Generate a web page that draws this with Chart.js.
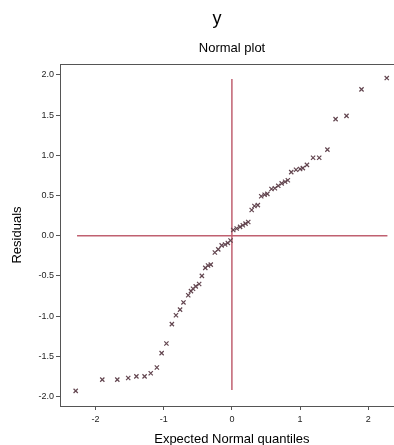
<!DOCTYPE html>
<html>
<head>
<meta charset="utf-8">
<script src="https://cdn.jsdelivr.net/npm/chart.js@4"></script>
<style>
  html, body { margin: 0; padding: 0; background: #fff; overflow: hidden; }
  #chart { display: block; }
</style>
</head>
<body>
<canvas id="chart" width="409" height="445"></canvas>
<script>
// expected normal quantiles (x) and residuals (y)
const quantiles = [
  -2.29, -1.90, -1.68, -1.52, -1.40, -1.28, -1.19, -1.10, -1.03, -0.96,
  -0.88, -0.82, -0.76, -0.71, -0.64, -0.60, -0.57, -0.53, -0.48, -0.44,
  -0.39, -0.35, -0.31, -0.25, -0.20, -0.15, -0.10, -0.06, -0.02, 0.02,
  0.07, 0.12, 0.16, 0.20, 0.24, 0.29, 0.33, 0.38, 0.43, 0.48,
  0.52, 0.58, 0.63, 0.68, 0.73, 0.78, 0.82, 0.87, 0.94, 1.00,
  1.04, 1.10, 1.19, 1.28, 1.40, 1.52, 1.68, 1.90, 2.27
];
const residuals = [
  -1.93, -1.79, -1.79, -1.77, -1.75, -1.75, -1.71, -1.64, -1.46, -1.34,
  -1.10, -0.99, -0.92, -0.83, -0.74, -0.69, -0.66, -0.63, -0.60, -0.50,
  -0.40, -0.37, -0.36, -0.21, -0.17, -0.12, -0.11, -0.09, -0.06, 0.07,
  0.09, 0.11, 0.13, 0.15, 0.17, 0.32, 0.37, 0.38, 0.49, 0.51,
  0.52, 0.58, 0.59, 0.62, 0.65, 0.67, 0.69, 0.79, 0.82, 0.83,
  0.84, 0.88, 0.97, 0.97, 1.07, 1.45, 1.49, 1.82, 1.96
];

// reference lines through zero
const hLineX = [-2.27, 2.28];
const vLineY = [1.95, -1.92];

const xTicks = [-2, -1, 0, 1, 2];
const yTicks = [-2.0, -1.5, -1.0, -0.5, 0.0, 0.5, 1.0, 1.5, 2.0];

const mainTitle = 'y';
const subTitle = 'Normal plot';
const xTitle = 'Expected Normal quantiles';
const yTitle = 'Residuals';

const FONT = 'Arial, "Liberation Sans", sans-serif';
const AXIS_COLOR = '#555555';
const LINE_COLOR = '#c06070';
const MARK_COLOR = '#634650';

const points = quantiles.map((q, i) => ({ x: q, y: residuals[i] }));

const titlesPlugin = {
  id: 'titles',
  afterDraw(chart) {
    const ctx = chart.ctx;
    const area = chart.chartArea;
    ctx.save();
    ctx.fillStyle = '#000';
    ctx.textAlign = 'center';
    ctx.textBaseline = 'middle';
    ctx.font = '18px ' + FONT;
    ctx.fillText(mainTitle, 217, 19);
    ctx.font = '13px ' + FONT;
    ctx.fillText(subTitle, 232, 48);
    // top frame line
    ctx.strokeStyle = AXIS_COLOR;
    ctx.lineWidth = 1;
    ctx.beginPath();
    ctx.moveTo(area.left, area.top + 0.5);
    ctx.lineTo(area.right, area.top + 0.5);
    ctx.stroke();
    ctx.restore();
  }
};

new Chart(document.getElementById('chart'), {
  type: 'scatter',
  data: {
    datasets: [
      {
        data: points,
        pointStyle: 'crossRot',
        pointRadius: 3,
        pointBorderWidth: 1.2,
        borderColor: MARK_COLOR,
        backgroundColor: MARK_COLOR,
        showLine: false
      },
      {
        data: hLineX.map(x => ({ x: x, y: 0 })),
        showLine: true,
        borderColor: LINE_COLOR,
        borderWidth: 1.5,
        pointRadius: 0
      },
      {
        data: vLineY.map(y => ({ x: 0, y: y })),
        showLine: true,
        borderColor: LINE_COLOR,
        borderWidth: 1.5,
        pointRadius: 0
      }
    ]
  },
  options: {
    responsive: false,
    animation: false,
    layout: { padding: { top: 64, right: 0, left: 0, bottom: 0 } },
    plugins: {
      legend: { display: false },
      tooltip: { enabled: false }
    },
    scales: {
      x: {
        type: 'linear',
        min: -2.52,
        max: 2.52,
        afterBuildTicks: axis => { axis.ticks = xTicks.map(v => ({ value: v })); },
        afterFit: scale => { scale.height = 39; },
        border: { display: true, color: AXIS_COLOR, width: 1 },
        grid: { display: true, drawOnChartArea: false, drawTicks: true, tickLength: 4, color: AXIS_COLOR },
        ticks: {
          color: '#222',
          font: { family: FONT, size: 9 },
          padding: 4,
          maxRotation: 0,
          callback: v => String(v)
        },
        title: {
          display: true,
          text: xTitle,
          color: '#000',
          font: { family: FONT, size: 13, lineHeight: 1 },
          padding: { top: 0, bottom: -1 }
        }
      },
      y: {
        type: 'linear',
        min: -2.118,
        max: 2.135,
        afterBuildTicks: axis => { axis.ticks = yTicks.map(v => ({ value: v })); },
        afterFit: scale => { scale.width = 60; },
        border: { display: true, color: AXIS_COLOR, width: 1 },
        grid: { display: true, drawOnChartArea: false, drawTicks: true, tickLength: 4, color: AXIS_COLOR },
        ticks: {
          color: '#222',
          font: { family: FONT, size: 9 },
          padding: 2,
          callback: v => v.toFixed(1)
        },
        title: {
          display: true,
          text: yTitle,
          color: '#000',
          font: { family: FONT, size: 13, lineHeight: 1 },
          padding: { top: 11, bottom: 0 }
        }
      }
    }
  },
  plugins: [titlesPlugin]
});
</script>
</body>
</html>
